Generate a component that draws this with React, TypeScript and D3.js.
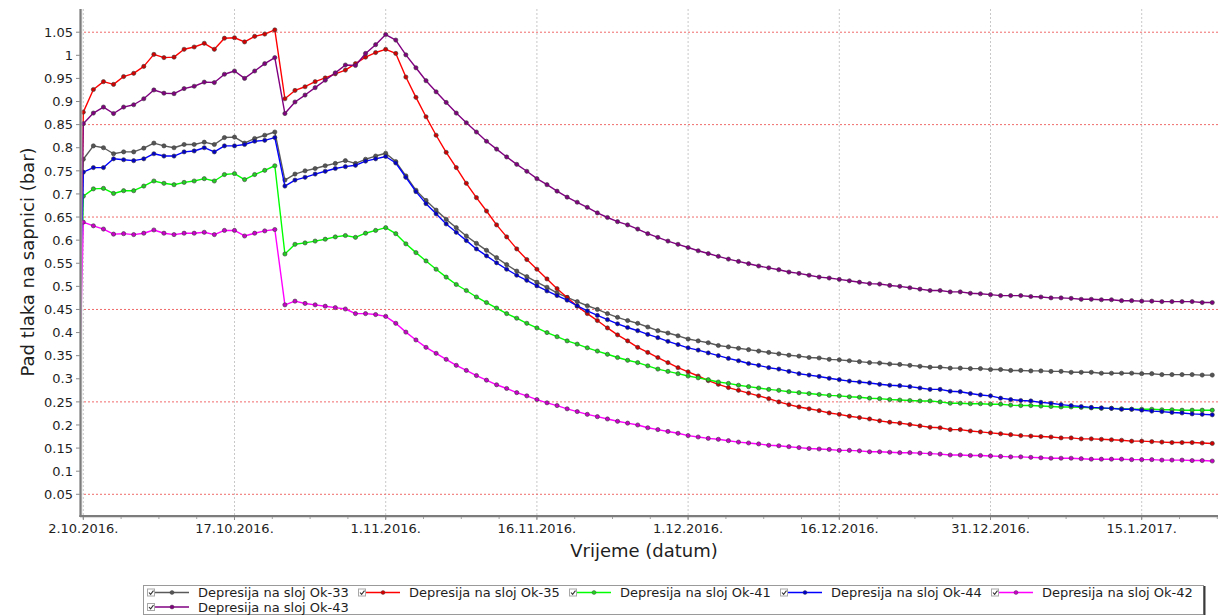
import React from "react";
import * as d3 from "d3";

const W = 1218;
const H = 616;
const FONT = "'DejaVu Sans', Verdana, sans-serif";

// ---- categories: daily readings from 2.10.2016 to 22.1.2017 ----
const firstDay = Date.UTC(2016, 9, 2);
const DAY = 86400000;
const dates: Date[] = d3.range(113).map((i) => new Date(firstDay + i * DAY));
// lines rise from zero at the left edge, just before the first reading
const riseDate = new Date(Date.UTC(2016, 9, 1, 7, 0));
const riseValue = 0;

// ---- axis ticks ----
const xTickDates = ["2016-10-02", "2016-10-17", "2016-11-01", "2016-11-16", "2016-12-01", "2016-12-16", "2016-12-31", "2017-01-15"];
const xTickLabels = ["2.10.2016.", "17.10.2016.", "1.11.2016.", "16.11.2016.", "1.12.2016.", "16.12.2016.", "31.12.2016.", "15.1.2017."];
const yTicks = [0.05, 0.1, 0.15, 0.2, 0.25, 0.3, 0.35, 0.4, 0.45, 0.5, 0.55, 0.6, 0.65, 0.7, 0.75, 0.8, 0.85, 0.9, 0.95, 1, 1.05];
const yTickLabels = ["0.05", "0.1", "0.15", "0.2", "0.25", "0.3", "0.35", "0.4", "0.45", "0.5", "0.55", "0.6", "0.65", "0.7", "0.75", "0.8", "0.85", "0.9", "0.95", "1", "1.05"];
const yGridValues = [0.05, 0.25, 0.45, 0.65, 0.85, 1.05];

// ---- series values (bar), one per day ----
const ok33 = [
  0.775, 0.804, 0.800, 0.787, 0.791, 0.791, 0.799, 0.810, 0.804, 0.800, 0.807, 0.807, 0.812, 0.807, 0.822, 0.823, 0.810, 0.820, 0.827, 0.834,
  0.730, 0.743, 0.750, 0.755, 0.761, 0.766, 0.772, 0.766, 0.775, 0.782, 0.788,
  0.770, 0.739, 0.708, 0.686, 0.665, 0.645, 0.627, 0.609, 0.593, 0.578, 0.562, 0.547, 0.533, 0.521, 0.509, 0.498, 0.486, 0.476, 0.467, 0.458, 0.450, 0.441, 0.433, 0.426, 0.420,
  0.412, 0.404, 0.399, 0.393, 0.386, 0.382, 0.378, 0.372, 0.369, 0.366, 0.363, 0.360, 0.357, 0.354, 0.351, 0.349, 0.346, 0.345, 0.342, 0.341, 0.339, 0.337, 0.335, 0.334, 0.332, 0.331, 0.329, 0.327,
  0.325, 0.325, 0.323, 0.323, 0.322, 0.322, 0.320, 0.320, 0.318, 0.318, 0.317, 0.317, 0.316, 0.316, 0.314, 0.314, 0.314, 0.312, 0.312, 0.312, 0.312, 0.311, 0.311, 0.309, 0.309, 0.309, 0.309, 0.308, 0.308,
];
const ok35 = [
  0.877, 0.926, 0.943, 0.937, 0.954, 0.961, 0.976, 1.002, 0.995, 0.996, 1.013, 1.018, 1.026, 1.013, 1.037, 1.038, 1.029, 1.041, 1.046, 1.055,
  0.906, 0.924, 0.932, 0.943, 0.951, 0.960, 0.968, 0.982, 0.996, 1.006, 1.013,
  1.004, 0.953, 0.909, 0.867, 0.827, 0.790, 0.757, 0.723, 0.692, 0.663, 0.633, 0.607, 0.581, 0.558, 0.537, 0.516, 0.495, 0.476, 0.457, 0.441, 0.426, 0.410, 0.395, 0.382, 0.368,
  0.357, 0.346, 0.335, 0.324, 0.315, 0.306, 0.296, 0.288, 0.281, 0.275, 0.269, 0.263, 0.257, 0.250, 0.244, 0.239, 0.235, 0.231, 0.226, 0.223, 0.219, 0.216, 0.213, 0.209, 0.206, 0.204, 0.201, 0.198,
  0.195, 0.194, 0.190, 0.190, 0.187, 0.185, 0.183, 0.181, 0.179, 0.177, 0.176, 0.175, 0.174, 0.172, 0.172, 0.170, 0.170, 0.169, 0.168, 0.167, 0.165, 0.165, 0.164, 0.163, 0.162, 0.162, 0.162, 0.161, 0.160,
];
const ok41 = [
  0.695, 0.711, 0.712, 0.701, 0.707, 0.707, 0.717, 0.728, 0.723, 0.720, 0.725, 0.728, 0.733, 0.728, 0.742, 0.744, 0.731, 0.742, 0.751, 0.761,
  0.570, 0.591, 0.594, 0.598, 0.602, 0.607, 0.610, 0.606, 0.615, 0.621, 0.627,
  0.614, 0.592, 0.573, 0.555, 0.537, 0.520, 0.504, 0.491, 0.477, 0.465, 0.453, 0.441, 0.431, 0.420, 0.410, 0.400, 0.391, 0.382, 0.375, 0.367, 0.360, 0.353, 0.346, 0.340, 0.335,
  0.328, 0.321, 0.316, 0.311, 0.306, 0.302, 0.298, 0.293, 0.290, 0.286, 0.283, 0.280, 0.277, 0.275, 0.272, 0.270, 0.268, 0.266, 0.264, 0.263, 0.261, 0.260, 0.258, 0.257, 0.255, 0.254, 0.253, 0.252,
  0.252, 0.250, 0.247, 0.247, 0.246, 0.246, 0.245, 0.245, 0.243, 0.242, 0.242, 0.241, 0.240, 0.239, 0.239, 0.238, 0.237, 0.236, 0.236, 0.235, 0.234, 0.234, 0.234, 0.233, 0.233, 0.232, 0.232, 0.232, 0.232,
];
const ok44 = [
  0.747, 0.757, 0.757, 0.776, 0.774, 0.772, 0.776, 0.787, 0.782, 0.782, 0.791, 0.793, 0.800, 0.791, 0.804, 0.804, 0.807, 0.814, 0.816, 0.822,
  0.717, 0.730, 0.736, 0.743, 0.749, 0.755, 0.759, 0.762, 0.771, 0.776, 0.781,
  0.767, 0.736, 0.705, 0.679, 0.657, 0.635, 0.617, 0.599, 0.581, 0.566, 0.551, 0.537, 0.524, 0.513, 0.501, 0.490, 0.480, 0.470, 0.458, 0.447, 0.437, 0.428, 0.419, 0.411, 0.404,
  0.396, 0.389, 0.381, 0.374, 0.367, 0.362, 0.356, 0.350, 0.344, 0.339, 0.333, 0.329, 0.324, 0.321, 0.316, 0.311, 0.308, 0.305, 0.301, 0.298, 0.295, 0.293, 0.291, 0.288, 0.286, 0.285, 0.283, 0.280,
  0.277, 0.277, 0.273, 0.272, 0.268, 0.265, 0.263, 0.258, 0.255, 0.253, 0.252, 0.249, 0.247, 0.244, 0.242, 0.240, 0.238, 0.237, 0.236, 0.234, 0.234, 0.232, 0.230, 0.229, 0.227, 0.226, 0.224, 0.223, 0.222,
];
const ok42 = [
  0.639, 0.631, 0.624, 0.613, 0.614, 0.612, 0.615, 0.622, 0.615, 0.612, 0.615, 0.615, 0.617, 0.612, 0.621, 0.621, 0.609, 0.615, 0.620, 0.623,
  0.460, 0.468, 0.463, 0.460, 0.457, 0.454, 0.451, 0.441, 0.441, 0.439, 0.435,
  0.420, 0.401, 0.384, 0.368, 0.355, 0.342, 0.329, 0.318, 0.307, 0.297, 0.287, 0.279, 0.270, 0.263, 0.255, 0.248, 0.242, 0.235, 0.229, 0.223, 0.218, 0.213, 0.208, 0.204, 0.200,
  0.194, 0.190, 0.186, 0.182, 0.177, 0.174, 0.171, 0.169, 0.166, 0.163, 0.161, 0.159, 0.156, 0.155, 0.153, 0.151, 0.149, 0.148, 0.147, 0.145, 0.145, 0.144, 0.142, 0.142, 0.141, 0.140, 0.140, 0.139,
  0.138, 0.137, 0.135, 0.135, 0.134, 0.134, 0.133, 0.132, 0.131, 0.131, 0.130, 0.129, 0.128, 0.128, 0.128, 0.127, 0.126, 0.126, 0.126, 0.126, 0.125, 0.125, 0.125, 0.124, 0.124, 0.124, 0.123, 0.123, 0.122,
];
const ok43 = [
  0.852, 0.875, 0.888, 0.874, 0.888, 0.893, 0.906, 0.925, 0.918, 0.917, 0.928, 0.933, 0.942, 0.941, 0.959, 0.966, 0.950, 0.966, 0.982, 0.995,
  0.874, 0.899, 0.914, 0.930, 0.946, 0.962, 0.979, 0.978, 1.004, 1.023, 1.045,
  1.033, 1.001, 0.973, 0.945, 0.921, 0.898, 0.875, 0.854, 0.834, 0.814, 0.797, 0.780, 0.764, 0.749, 0.733, 0.720, 0.706, 0.693, 0.682, 0.671, 0.659, 0.649, 0.640, 0.633, 0.624,
  0.614, 0.606, 0.598, 0.591, 0.584, 0.577, 0.571, 0.565, 0.559, 0.554, 0.549, 0.544, 0.540, 0.536, 0.531, 0.528, 0.524, 0.520, 0.518, 0.515, 0.512, 0.509, 0.506, 0.505, 0.502, 0.500, 0.497, 0.494,
  0.491, 0.491, 0.488, 0.488, 0.485, 0.484, 0.482, 0.480, 0.480, 0.480, 0.478, 0.477, 0.475, 0.475, 0.474, 0.472, 0.472, 0.471, 0.471, 0.469, 0.469, 0.468, 0.468, 0.467, 0.467, 0.467, 0.467, 0.465, 0.465,
];

const seriesNames = ["Depresija na sloj Ok-33", "Depresija na sloj Ok-35", "Depresija na sloj Ok-41", "Depresija na sloj Ok-44", "Depresija na sloj Ok-42", "Depresija na sloj Ok-43"];
const seriesValues = [ok33, ok35, ok41, ok44, ok42, ok43];
const lineColors = ["#5a5a5a", "#ff0000", "#00ff00", "#0000ff", "#ff00ff", "#800080"];
const markerColors = ["#555555", "#d40000", "#22d022", "#0000c8", "#c800c8", "#800080"];

// ---- layout ----
const PL = 80, PR = 1216, PT = 9, PB = 517.4;

export default function App() {
  const x = d3
    .scaleUtc()
    .domain([new Date(Date.UTC(2016, 9, 1, 16, 8)), new Date(Date.UTC(2017, 0, 22, 8, 53))])
    .range([PL, PR]);
  const y = d3.scaleLinear().domain([0, 1.1]).range([PB, PT + 0.1]);

  const line = d3
    .line<[Date, number]>()
    .x((d) => x(d[0]))
    .y((d) => y(d[1]));

  const majorX = xTickDates.map((s) => new Date(s + "T00:00:00Z"));
  const minorX = d3.range(0, 113, 3.75).map((d) => new Date(firstDay + d * DAY));

  const axisY = 516;

  const legendItems = seriesNames.map((name, i) => {
    const row = i < 5 ? 0 : 1;
    const col = i < 5 ? i : 0;
    return { name, i, tx: 198 + col * 211, cy: row === 0 ? 592.5 : 607 };
  });

  return (
    <svg
      width={W}
      height={H}
      viewBox={`0 0 ${W} ${H}`}
      style={{ position: "absolute", left: 0, top: 0, background: "#fff", fontFamily: FONT }}
    >
      <defs>
        <clipPath id="plotClip">
          <rect x={PL} y={PT} width={PR - PL} height={axisY - PT} />
        </clipPath>
      </defs>
      <rect x={0} y={0} width={W} height={H} fill="#fff" />

      {/* vertical grid */}
      {majorX.map((d, i) => (
        <line key={"vg" + i} x1={x(d)} x2={x(d)} y1={PT} y2={axisY} stroke="#c8c8c8" strokeWidth={1} strokeDasharray="2,2" />
      ))}
      {/* horizontal red dotted grid */}
      {yGridValues.map((v, i) => (
        <line key={"hg" + i} x1={PL} x2={PR + 2} y1={y(v)} y2={y(v)} stroke="#f06a6a" strokeWidth={1} strokeDasharray="2,2" />
      ))}

      {/* series */}
      <g clipPath="url(#plotClip)">
        {seriesValues.map((vals, si) => {
          const pts: [Date, number][] = [[riseDate, riseValue], ...vals.map((v, k) => [dates[k], v] as [Date, number])];
          return (
            <g key={"s" + si}>
              <path d={line(pts) || ""} fill="none" stroke={lineColors[si]} strokeWidth={1.4} strokeLinejoin="round" />
              {vals.map((v, k) => (
                <circle key={k} cx={x(dates[k])} cy={y(v)} r={2.1} fill={markerColors[si]} stroke="#3a3a3a" strokeOpacity={0.75} strokeWidth={0.8} />
              ))}
            </g>
          );
        })}
      </g>

      {/* axes */}
      <line x1={PL + 1.8} x2={PL + 1.8} y1={PT} y2={axisY} stroke="#d8d8d8" strokeWidth={1} />
      <line x1={PL + 0.5} x2={PL + 0.5} y1={PT} y2={axisY + 1} stroke="#7c7c7c" strokeWidth={2.2} />
      <line x1={PL} x2={PR + 2} y1={axisY + 1.6} y2={axisY + 1.6} stroke="#d8d8d8" strokeWidth={1} />
      <line x1={PL - 0.6} x2={PR + 2} y1={axisY} y2={axisY} stroke="#7c7c7c" strokeWidth={2.2} />

      {/* y ticks */}
      {yTicks.map((v, i) => (
        <g key={"yt" + i}>
          <line x1={76} x2={80} y1={y(v)} y2={y(v)} stroke="#8a8a8a" strokeWidth={1} />
          <text x={73} y={y(v)} dy="0.36em" textAnchor="end" fontSize={13} fill="#1e1e1e">
            {yTickLabels[i]}
          </text>
        </g>
      ))}

      {/* x ticks */}
      {minorX.map((d, i) => (
        <line key={"mx" + i} x1={x(d)} x2={x(d)} y1={axisY + 1} y2={axisY + 3} stroke="#a0a0a0" strokeWidth={1} />
      ))}
      {majorX.map((d, i) => (
        <g key={"xt" + i}>
          <line x1={x(d)} x2={x(d)} y1={axisY + 1} y2={axisY + 4} stroke="#8a8a8a" strokeWidth={1} />
          <text x={x(d)} y={533} textAnchor="middle" fontSize={13} fill="#1e1e1e">
            {xTickLabels[i]}
          </text>
        </g>
      ))}

      {/* axis titles */}
      <text x={644} y={557} textAnchor="middle" fontSize={18} fill="#1e1e1e">
        Vrijeme (datum)
      </text>
      <text transform="translate(34,262) rotate(-90)" textAnchor="middle" fontSize={18} fill="#1e1e1e">
        Pad tlaka na sapnici (bar)
      </text>

      {/* legend */}
      <rect x={143.5} y={585.5} width={1060} height={29} fill="#fff" stroke="#9a9a9a" strokeWidth={1} />
      <line x1={1204.5} x2={1204.5} y1={586} y2={615} stroke="#3a3a3a" strokeWidth={2} />
      {legendItems.map((it) => {
        const bx = it.tx - 51;
        return (
          <g key={"lg" + it.i}>
            <rect x={bx + 0.5} y={it.cy - 3.5} width={7} height={7} fill="#fff" stroke="#a8a8a8" strokeWidth={1} />
            <path d={`M${bx + 2},${it.cy} L${bx + 3.6},${it.cy + 1.8} L${bx + 6.5},${it.cy - 1.8}`} fill="none" stroke="#333" strokeWidth={1.1} />
            <line x1={it.tx - 43} x2={it.tx - 9} y1={it.cy} y2={it.cy} stroke={lineColors[it.i]} strokeWidth={1.4} />
            <circle cx={it.tx - 26} cy={it.cy} r={2} fill={markerColors[it.i]} stroke="#3a3a3a" strokeOpacity={0.6} strokeWidth={0.7} />
            <text x={it.tx} y={it.cy} dy="0.36em" fontSize={13} fill="#1e1e1e">
              {it.name}
            </text>
          </g>
        );
      })}
    </svg>
  );
}
